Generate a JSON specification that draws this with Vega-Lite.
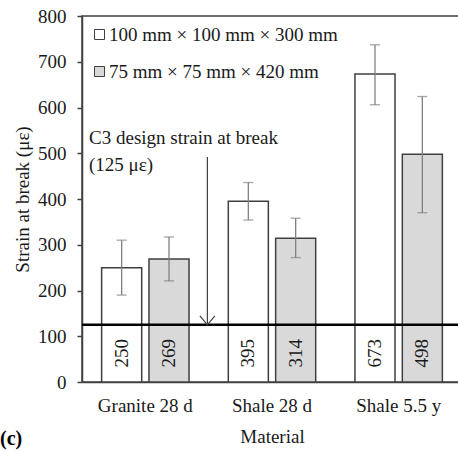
{
  "$schema": "https://vega.github.io/schema/vega-lite/v6.json",
  "width": 380,
  "height": 366,
  "autosize": {"type": "none"},
  "padding": {"left": 82, "top": 16, "right": 0, "bottom": 69},
  "background": "white",
  "config": {
    "font": "Liberation Serif",
    "view": {"stroke": "#404040", "strokeWidth": 1.5},
    "axis": {"grid": false, "labelFontSize": 19, "labelColor": "#1a1a1a", "titleFontSize": 19, "titleFontWeight": "normal", "titleColor": "#1a1a1a", "domainColor": "#404040", "domainWidth": 1.5, "tickColor": "#404040", "tickWidth": 1.5}
  },
  "datasets": {
    "bars": [
      {"cat": "Granite 28 d", "spec": "100 mm × 100 mm × 300 mm", "value": 250, "lo": 190, "hi": 310},
      {"cat": "Granite 28 d", "spec": "75 mm × 75 mm × 420 mm", "value": 269, "lo": 221, "hi": 317},
      {"cat": "Shale 28 d", "spec": "100 mm × 100 mm × 300 mm", "value": 395, "lo": 354, "hi": 436},
      {"cat": "Shale 28 d", "spec": "75 mm × 75 mm × 420 mm", "value": 314, "lo": 272, "hi": 358},
      {"cat": "Shale 5.5 y", "spec": "100 mm × 100 mm × 300 mm", "value": 673, "lo": 606, "hi": 737},
      {"cat": "Shale 5.5 y", "spec": "75 mm × 75 mm × 420 mm", "value": 498, "lo": 370, "hi": 624}
    ],
    "note": [
      {"cat": "Granite 28 d", "top": 492, "bottom": 125, "design": 125, "label": "C3 design strain at break\n(125 με)"}
    ]
  },
  "title": {"text": "(c)", "orient": "bottom", "anchor": "start", "frame": "group", "fontWeight": "bold", "fontSize": 20, "color": "#000000", "font": "Liberation Serif", "dx": -82, "offset": -17, "baseline": "top"},
  "layer": [
    {
      "data": {"name": "bars"},
      "mark": {"type": "bar", "stroke": "#404040", "strokeWidth": 1.5},
      "encoding": {
        "x": {"field": "cat", "type": "nominal", "title": "Material",
              "scale": {"domain": ["Granite 28 d", "Shale 28 d", "Shale 5.5 y"], "paddingInner": 0.31, "paddingOuter": 0.155},
              "axis": {"ticks": false, "labelAngle": 0, "labelPadding": 14, "titleY": 60, "titleBaseline": "alphabetic"}},
        "xOffset": {"field": "spec", "type": "nominal", "scale": {"domain": ["100 mm × 100 mm × 300 mm", "75 mm × 75 mm × 420 mm"], "paddingInner": 0.154, "paddingOuter": 0}},
        "y": {"field": "value", "type": "quantitative", "title": "Strain at break (με)",
              "scale": {"domain": [0, 800], "nice": false},
              "axis": {"values": [0, 100, 200, 300, 400, 500, 600, 700, 800], "tickSize": 5, "labelPadding": 11, "titleX": -54, "titleY": 183, "titleBaseline": "alphabetic", "titleAlign": "center", "titleAngle": -90}},
        "fill": {"field": "spec", "type": "nominal",
                 "scale": {"domain": ["100 mm × 100 mm × 300 mm", "75 mm × 75 mm × 420 mm"], "range": ["#ffffff", "#d9d9d9"]},
                 "legend": {"orient": "none", "legendX": 8, "legendY": 9, "title": null, "symbolType": "square", "symbolSize": 100, "symbolStrokeColor": "#404040", "symbolStrokeWidth": 1, "labelFontSize": 19, "labelColor": "#1a1a1a", "labelOffset": 0, "rowPadding": 17, "padding": 0, "labelLimit": 400}}
      }
    },
    {
      "data": {"name": "bars"},
      "mark": {"type": "rule", "color": "#808080", "strokeWidth": 1.3},
      "encoding": {
        "x": {"field": "cat", "type": "nominal"},
        "xOffset": {"field": "spec", "type": "nominal"},
        "y": {"field": "lo", "type": "quantitative"},
        "y2": {"field": "hi"}
      }
    },
    {
      "data": {"name": "bars"},
      "mark": {"type": "tick", "color": "#808080", "thickness": 1.3, "size": 10},
      "encoding": {
        "x": {"field": "cat", "type": "nominal"},
        "xOffset": {"field": "spec", "type": "nominal"},
        "y": {"field": "lo", "type": "quantitative"}
      }
    },
    {
      "data": {"name": "bars"},
      "mark": {"type": "tick", "color": "#808080", "thickness": 1.3, "size": 10},
      "encoding": {
        "x": {"field": "cat", "type": "nominal"},
        "xOffset": {"field": "spec", "type": "nominal"},
        "y": {"field": "hi", "type": "quantitative"}
      }
    },
    {
      "data": {"name": "bars"},
      "mark": {"type": "text", "angle": 270, "fontSize": 19, "color": "#1a1a1a", "align": "center", "baseline": "middle"},
      "encoding": {
        "x": {"field": "cat", "type": "nominal"},
        "xOffset": {"field": "spec", "type": "nominal"},
        "y": {"datum": 63, "type": "quantitative"},
        "text": {"field": "value", "type": "quantitative"}
      }
    },
    {
      "data": {"name": "note"},
      "mark": {"type": "rule", "color": "#000000", "strokeWidth": 2.5},
      "encoding": {
        "y": {"field": "design", "type": "quantitative"}
      }
    },
    {
      "data": {"name": "note"},
      "mark": {"type": "rule", "color": "#404040", "strokeWidth": 1.2},
      "encoding": {
        "x": {"field": "cat", "type": "nominal", "bandPosition": 1.21},
        "y": {"field": "top", "type": "quantitative"},
        "y2": {"field": "bottom"}
      }
    },
    {
      "data": {"name": "note"},
      "mark": {"type": "point", "shape": "M-1,-1.2L0,0L1,-1.2", "filled": false, "stroke": "#404040", "strokeWidth": 1.2, "size": 225, "opacity": 1},
      "encoding": {
        "x": {"field": "cat", "type": "nominal", "bandPosition": 1.21},
        "y": {"field": "bottom", "type": "quantitative"}
      }
    },
    {
      "data": {"name": "note"},
      "mark": {"type": "text", "align": "left", "baseline": "alphabetic", "fontSize": 19, "lineHeight": 27, "lineBreak": "\n", "color": "#1a1a1a"},
      "encoding": {
        "x": {"field": "cat", "type": "nominal", "bandPosition": -0.144},
        "y": {"datum": 520, "type": "quantitative"},
        "text": {"field": "label"}
      }
    }
  ]
}
